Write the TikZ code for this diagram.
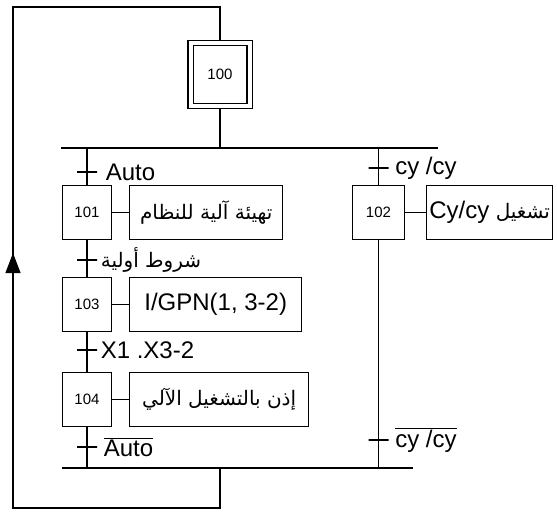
\documentclass[tikz,border=0pt]{standalone}
\usepackage{fontspec}
\setmainfont{Liberation Sans}
\newfontfamily\arabicfont[Script=Arabic]{DejaVu Sans}
\TeXXeTstate=1
\usepackage{tikz}
\usetikzlibrary{positioning,arrows.meta,decorations.markings}
\newcommand{\artxt}[1]{{\arabicfont\fontsize{20}{22}\selectfont\beginR #1\endR}}

\tikzset{
  etape/.style={draw, line width=1.2pt, minimum width=49pt, minimum height=54pt, inner sep=0pt, font=\fontsize{15}{15}\selectfont},
  action/.style={draw, line width=1.2pt, minimum height=54pt, inner sep=0pt, font=\fontsize{24}{26}\selectfont},
  trans/.style={draw, line width=1.2pt, minimum width=20pt, minimum height=0pt, inner sep=0pt},
  recept/.style={anchor=west, inner sep=0pt, font=\fontsize{24}{26}\selectfont},
  lien/.style={line width=1.2pt},
  sync/.style={line width=1.6pt}
}

\begin{document}
\begin{tikzpicture}[x=1pt,y=-1pt]
\useasboundingbox (0,0) rectangle (557,512);

% etapes
\node[etape, double, double distance=4pt, minimum width=59pt, minimum height=63pt, outer sep=3.2pt] (s100) at (220,74.5) {100};
\node[etape] (s101) at (87,212.5) {101};
\node[etape] (s103) at (87,304.5) {103};
\node[etape] (s104) at (87,399.5) {104};
\node[etape, minimum width=52pt] (s102) at (378.5,212.5) {102};

% actions
\node[action, right=17pt of s101, minimum width=153pt] (a101) {\artxt{تهيئة آلية للنظام}};
\node[action, right=17pt of s103, minimum width=172pt] (a103) {I/GPN(1, 3-2)};
\node[action, right=17pt of s104, minimum width=179pt] (a104) {\artxt{إذن بالتشغيل الآلي}};
\node[action, right=21pt of s102, minimum width=126pt] (a102) {\artxt{تشغيل \beginL{\rmfamily\fontsize{24}{26}\selectfont Cy/cy}\endL}};

% transitions
\node[trans] (t1) at (87,172) {};
\node[trans] (t2) at (87,260) {};
\node[trans] (t3) at (87,350) {};
\node[trans] (t4) at (87,447) {};
\node[trans] (t5) at (378.5,168) {};
\node[trans] (t6) at (378.5,440) {};

\node[recept, right=8pt of t1] (r1) {Auto};
\node[recept, right=3pt of t2] (r2) {\artxt{شروط أولية}};
\node[recept, right=3pt of t3] (r3) {X1 .X3-2};
\node[recept, right=6pt of t4] (r4) {\(\overline{\mbox{Auto}}\)};
\node[recept, right=6pt of t5] (r5) {cy /cy};
\node[recept, right=6pt of t6] (r6) {\(\overline{\mbox{cy /cy}}\)};

% divergence / convergence en OU
\coordinate (divL) at (61,148);
\coordinate (divR) at (438,148);
\coordinate (convL) at (62,468);
\coordinate (convR) at (413,468);
\coordinate (convM) at (220,468);
\coordinate (retourB) at (13,508);
\coordinate (retourH) at (13,7);

\draw[sync] (divL) -- (divR);
\draw[sync] (convL) -- (convR);

\draw[lien] (s100.south) -- (s100.south |- divL);
\draw[lien] (s101.north |- divL) -- (s101.north);
\draw[lien] (s101.south) -- (s103.north);
\draw[lien] (s103.south) -- (s104.north);
\draw[lien] (s104.south) -- (s104.south |- convL);
\draw[lien] (s102.north |- divR) -- (s102.north);
\draw[lien] (s102.south) -- (s102.south |- convR);

\draw[lien] (s101) -- (a101);
\draw[lien] (s103) -- (a103);
\draw[lien] (s104) -- (a104);
\draw[lien] (s102) -- (a102);

% retour
\draw[lien, postaction={decorate},
  decoration={markings, mark=at position 502pt with {\arrow{Triangle[length=20pt,width=15pt]}}}]
  (convM) |- (retourB) -- (retourH) -| (s100.north);
\end{tikzpicture}
\end{document}
